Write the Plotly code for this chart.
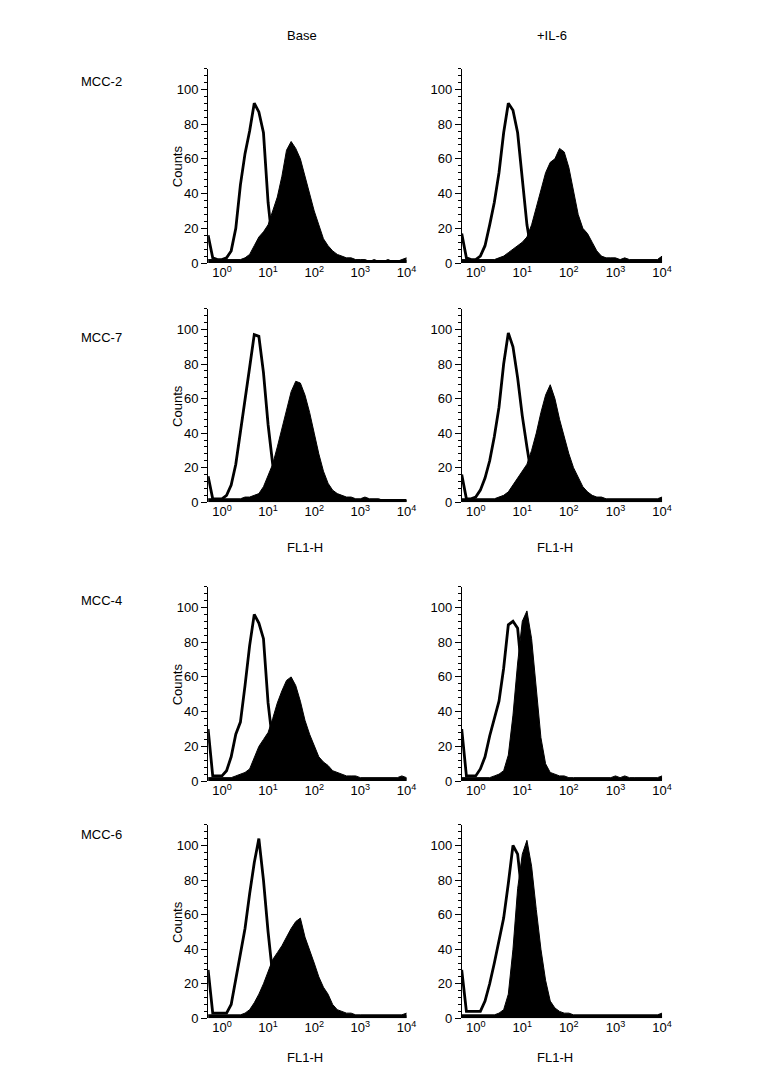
"""Flow cytometry FL1-H histograms: MCC lines, base vs +IL-6."""
import plotly.graph_objects as go

# channel positions (log10 of FL1-H)
CHANNELS = [-0.3, -0.2, -0.1, 0.0, 0.1, 0.2, 0.3, 0.4, 0.5, 0.6, 0.7,
            0.8, 0.9, 1.0, 1.1, 1.2, 1.3, 1.4, 1.5, 1.6, 1.7, 1.8,
            1.9, 2.0, 2.1, 2.2, 2.3, 2.4, 2.5, 2.6, 2.7, 2.8, 2.9,
            3.0, 3.1, 3.2, 3.3, 3.4, 3.5, 3.6, 3.7, 3.8, 3.9, 4.0]

ROW_LABELS = ["MCC-2", "MCC-7", "MCC-4", "MCC-6"]
COL_LABELS = ["Base", "+IL-6"]
X_TICKS = [1, 10, 100, 1000, 10000]
X_TICKTEXT = ["10<sup>0</sup>", "10<sup>1</sup>", "10<sup>2</sup>",
              "10<sup>3</sup>", "10<sup>4</sup>"]

# open histograms (control)
MCC2_BASE_OPEN = [16, 3, 2, 2, 3, 7, 20, 45, 63, 76, 92, 87, 75, 35, 10, 4, 2,
                  1, 1, 1, 1, 1, 1, 1, 1, 1, 1, 1, 1, 1, 1, 1, 1, 1, 1, 1, 1,
                  1, 1, 1, 1, 1, 1, 1]
MCC2_IL6_OPEN = [17, 3, 2, 2, 4, 10, 22, 35, 52, 75, 92, 88, 75, 48, 22, 6, 2,
                 1, 1, 1, 1, 1, 1, 1, 1, 1, 1, 1, 1, 1, 1, 1, 1, 1, 1, 1, 1,
                 1, 1, 1, 1, 1, 1, 1]
MCC7_BASE_OPEN = [15, 2, 2, 2, 4, 10, 22, 40, 58, 78, 97, 96, 75, 45, 22, 8, 3,
                  1, 1, 1, 1, 1, 1, 1, 1, 1, 1, 1, 1, 1, 1, 1, 1, 1, 1, 1, 1,
                  1, 1, 1, 1, 1, 1, 1]
MCC7_IL6_OPEN = [16, 2, 2, 3, 7, 14, 24, 38, 55, 80, 98, 90, 72, 50, 32, 15, 8,
                 3, 1, 1, 1, 1, 1, 1, 1, 1, 1, 1, 1, 1, 1, 1, 1, 1, 1, 1, 1,
                 1, 1, 1, 1, 1, 1, 1]
MCC4_BASE_OPEN = [30, 3, 3, 3, 6, 14, 27, 34, 55, 78, 96, 91, 82, 45, 22, 8, 3,
                  1, 1, 1, 1, 1, 1, 1, 1, 1, 1, 1, 1, 1, 1, 1, 1, 1, 1, 1, 1,
                  1, 1, 1, 1, 1, 1, 1]
MCC4_IL6_OPEN = [30, 3, 3, 3, 7, 14, 26, 36, 46, 65, 90, 92, 88, 60, 35, 15, 5,
                 2, 1, 1, 1, 1, 1, 1, 1, 1, 1, 1, 1, 1, 1, 1, 1, 1, 1, 1, 1,
                 1, 1, 1, 1, 1, 1, 1]
MCC6_BASE_OPEN = [28, 3, 3, 3, 3, 8, 22, 36, 52, 72, 90, 104, 80, 50, 25, 10, 4,
                  1, 1, 1, 1, 1, 1, 1, 1, 1, 1, 1, 1, 1, 1, 1, 1, 1, 1, 1, 1,
                  1, 1, 1, 1, 1, 1, 1]
MCC6_IL6_OPEN = [28, 4, 4, 4, 4, 10, 20, 32, 44, 58, 78, 100, 95, 70, 40, 18, 6,
                 2, 1, 1, 1, 1, 1, 1, 1, 1, 1, 1, 1, 1, 1, 1, 1, 1, 1, 1, 1,
                 1, 1, 1, 1, 1, 1, 1]

# filled histograms (antibody)
MCC2_BASE_FILL = [2, 2, 2, 2, 2, 2, 2, 2, 3, 5, 10, 15, 18, 22, 30, 38, 50,
                  65, 70, 66, 60, 50, 40, 30, 22, 14, 10, 7, 5, 4, 3, 3, 2,
                  2, 2, 1, 2, 1, 1, 2, 1, 1, 2, 3]
MCC2_IL6_FILL = [2, 2, 2, 2, 2, 2, 2, 2, 3, 4, 6, 8, 10, 12, 15, 22, 32,
                 42, 52, 58, 60, 66, 64, 55, 42, 28, 20, 17, 12, 7, 4, 3, 3,
                 3, 2, 3, 2, 2, 2, 2, 2, 2, 2, 4]
MCC7_BASE_FILL = [2, 2, 2, 2, 2, 2, 2, 2, 3, 3, 4, 5, 9, 15, 22, 32, 43,
                  53, 64, 70, 69, 62, 52, 40, 28, 18, 11, 7, 5, 4, 3, 3, 2,
                  2, 3, 2, 2, 2, 1, 1, 1, 1, 1, 1]
MCC7_IL6_FILL = [2, 2, 2, 2, 2, 2, 2, 2, 3, 4, 6, 10, 14, 18, 22, 30, 40,
                 52, 62, 68, 60, 48, 38, 28, 20, 14, 9, 6, 4, 3, 3, 2, 2,
                 2, 2, 2, 2, 2, 2, 2, 2, 2, 2, 3]
MCC4_BASE_FILL = [2, 2, 2, 2, 2, 2, 3, 4, 5, 7, 14, 20, 24, 28, 36, 45, 52,
                  58, 60, 55, 46, 35, 27, 21, 14, 11, 9, 6, 5, 4, 3, 3, 3,
                  2, 2, 2, 2, 2, 2, 2, 2, 2, 3, 2]
MCC4_IL6_FILL = [2, 2, 2, 2, 2, 2, 2, 3, 4, 6, 15, 38, 68, 92, 98, 82, 55,
                 25, 10, 5, 4, 3, 3, 2, 2, 2, 2, 2, 2, 2, 2, 2, 2,
                 3, 2, 3, 2, 2, 2, 2, 2, 2, 2, 3]
MCC6_BASE_FILL = [2, 2, 2, 2, 2, 2, 2, 2, 3, 5, 9, 14, 20, 27, 34, 38, 42,
                  47, 52, 56, 58, 47, 40, 32, 24, 18, 14, 8, 5, 4, 3, 3, 2,
                  2, 2, 2, 2, 2, 2, 2, 2, 2, 2, 3]
MCC6_IL6_FILL = [2, 2, 2, 2, 2, 2, 2, 2, 3, 5, 14, 40, 75, 95, 103, 88, 63,
                 40, 22, 10, 6, 4, 3, 3, 2, 2, 2, 2, 2, 2, 2, 2, 2,
                 2, 2, 2, 2, 2, 2, 2, 2, 2, 2, 3]

PANELS = [
    [(MCC2_BASE_OPEN, MCC2_BASE_FILL), (MCC2_IL6_OPEN, MCC2_IL6_FILL)],
    [(MCC7_BASE_OPEN, MCC7_BASE_FILL), (MCC7_IL6_OPEN, MCC7_IL6_FILL)],
    [(MCC4_BASE_OPEN, MCC4_BASE_FILL), (MCC4_IL6_OPEN, MCC4_IL6_FILL)],
    [(MCC6_BASE_OPEN, MCC6_BASE_FILL), (MCC6_IL6_OPEN, MCC6_IL6_FILL)],
]

# page has an 8px body margin, so the figure is 16px smaller and
# page pixel positions are shifted by OFF
OFF = 8
W, H = 768 - 2 * OFF, 1076 - 2 * OFF
FONT = "Liberation Sans, Arial, sans-serif"
# plot areas in page pixels
COL_PX = [(210, 413), (466, 671)]
ROW_PX = [(69, 265), (311, 506), (591, 787), (831, 1026)]
ROW_LABEL_Y = [82, 340, 605, 841]
XTITLE_Y = {1: 552, 3: 1065}


def px(x):
    return (x - OFF) / W


def py(y):
    return 1 - (y - OFF) / H


xs = [10 ** c for c in CHANNELS]

fig = go.Figure()
layout = {}
annotations = []
n = 0
for r, row in enumerate(PANELS):
    for c, (open_y, fill_y) in enumerate(row):
        n += 1
        sfx = "" if n == 1 else str(n)
        xa, ya = "x" + sfx, "y" + sfx
        fig.add_trace(go.Scatter(x=xs, y=open_y, mode="lines", xaxis=xa, yaxis=ya,
                                 line=dict(color="black", width=2.8), showlegend=False))
        fig.add_trace(go.Scatter(x=xs, y=fill_y, mode="lines", xaxis=xa, yaxis=ya,
                                 fill="tozeroy", fillcolor="black",
                                 line=dict(color="black", width=1), showlegend=False))
        x0, x1 = COL_PX[c]
        y0, y1 = ROW_PX[r]
        layout["xaxis" + sfx] = dict(
            type="log", domain=[px(x0), px(x1)], range=[-0.3, 4.06],
            anchor=ya, showgrid=False, zeroline=False, showline=False, ticks="",
            tickvals=X_TICKS, ticktext=X_TICKTEXT,
            tickfont=dict(family=FONT, size=13, color="black"),
        )
        layout["yaxis" + sfx] = dict(
            domain=[py(y1), py(y0)], range=[0, 112], anchor=xa,
            showgrid=False, zeroline=False, showline=True, linecolor="black",
            linewidth=1, ticks="outside", ticklen=6, tickcolor="black",
            tickvals=[0, 20, 40, 60, 80, 100],
            minor=dict(dtick=4, ticks="outside", ticklen=3, tickcolor="black"),
            tickfont=dict(family=FONT, size=13, color="black"),
        )
        if c == 0:
            annotations.append(dict(text="Counts", x=px(179), y=py((y0 + y1) / 2),
                                    xref="paper", yref="paper", textangle=-90,
                                    xanchor="center", yanchor="middle",
                                    showarrow=False, font=dict(family=FONT, size=13)))
        if r in XTITLE_Y:
            cx = 308 if c == 0 else 560
            annotations.append(dict(text="FL1-H", x=px(cx), y=py(XTITLE_Y[r]),
                                    xref="paper", yref="paper", showarrow=False,
                                    xanchor="center", yanchor="middle",
                                    font=dict(family=FONT, size=13)))
    annotations.append(dict(text=ROW_LABELS[r], x=px(80), y=py(ROW_LABEL_Y[r]),
                            xref="paper", yref="paper", xanchor="left", yanchor="middle",
                            showarrow=False, font=dict(family=FONT, size=13)))

for c, label in enumerate(COL_LABELS):
    cx = 305 if c == 0 else 557
    annotations.append(dict(text=label, x=px(cx), y=py(36), xref="paper", yref="paper",
                            xanchor="center", yanchor="middle",
                            showarrow=False, font=dict(family=FONT, size=13)))

fig.update_layout(
    width=W, height=H, margin=dict(l=0, r=0, t=0, b=0),
    paper_bgcolor="white", plot_bgcolor="white",
    font=dict(family=FONT, size=13, color="black"),
    annotations=annotations, **layout,
)
fig.write_html("out.html")
